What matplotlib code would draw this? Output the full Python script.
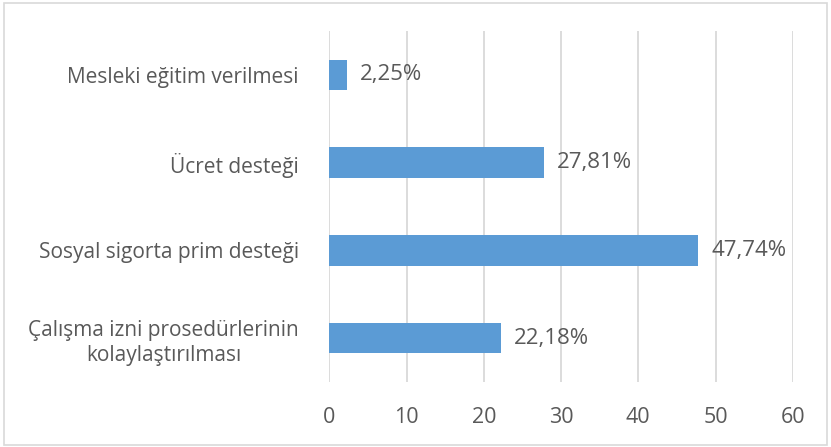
import matplotlib.pyplot as plt
from matplotlib.patches import Rectangle

categories = ['Mesleki eğitim verilmesi', 'Ücret desteği',
              'Sosyal sigorta prim desteği',
              'Çalışma izni prosedürlerinin\nkolaylaştırılması']
values = [2.25, 27.81, 47.74, 22.18]
x_ticks = [0, 10, 20, 30, 40, 50, 60]

plt.rcParams['font.family'] = ['Open Sans', 'DejaVu Sans']
text_color = '#595959'

fig = plt.figure(figsize=(8.31, 4.47), dpi=100)
ax = fig.add_axes([0.3963, 0.1454, 0.5577, 0.7852])

pos = list(range(len(categories)))
ax.barh(pos, values, height=0.35, color='#5B9BD5', zorder=3)
ax.set_ylim(len(categories) - 0.5, -0.5)
ax.set_yticks(pos)
ax.set_yticklabels(categories, fontsize=15, color=text_color,
                   linespacing=1.3, multialignment='center')
ax.set_xlim(0, 60)
ax.set_xticks(x_ticks)
ax.set_xticklabels([str(t) for t in x_ticks], fontsize=15.5, color=text_color)
ax.tick_params(axis='both', length=0)
ax.tick_params(axis='x', pad=18)
ax.tick_params(axis='y', pad=22)
ax.grid(axis='x', color='#D9D9D9', linewidth=1.3, zorder=0)
for s in ax.spines.values():
    s.set_visible(False)

for v, p in zip(values, pos):
    ax.text(v + 1.7, p, f'{v:.2f}%'.replace('.', ','), va='center', ha='left',
            fontsize=16, color=text_color)

fig.patches.append(Rectangle((0.005, 0.004), 0.99, 0.99, transform=fig.transFigure,
                             fill=False, edgecolor='#D9D9D9', linewidth=1.2))

fig.savefig('out.png', dpi=100)
